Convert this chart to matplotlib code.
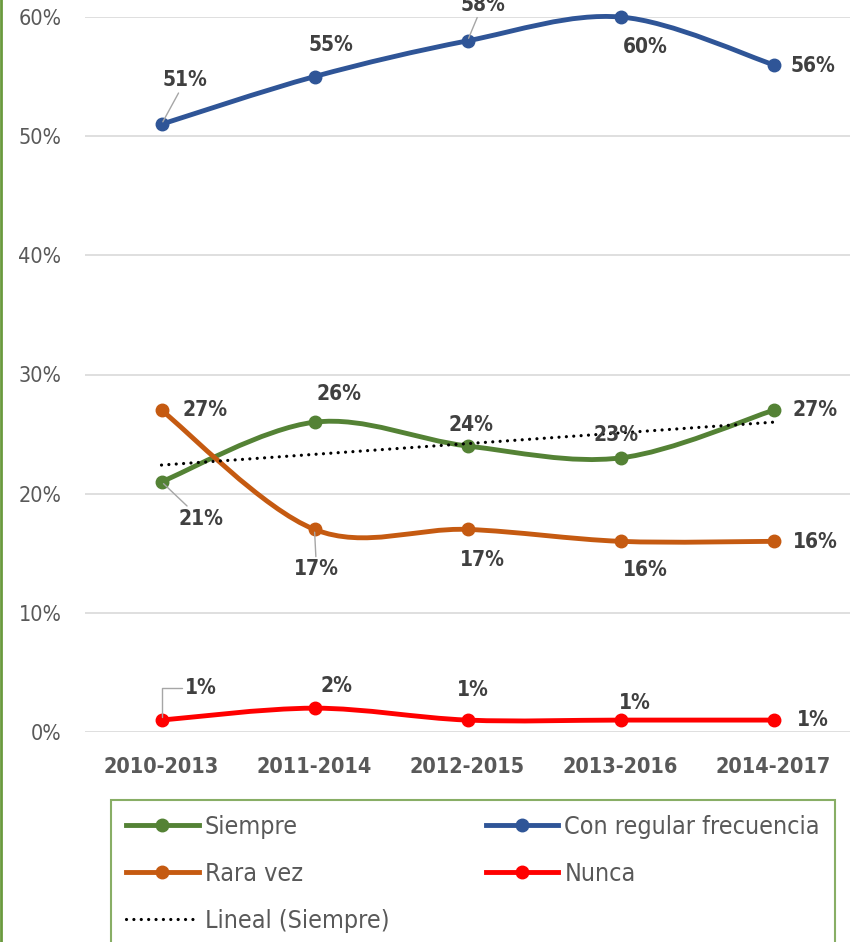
import matplotlib
matplotlib.use("Agg")
import matplotlib.pyplot as plt
import numpy as np
from matplotlib.path import Path
from matplotlib.patches import PathPatch
from matplotlib.lines import Line2D

# no Arial Narrow here, condensed DejaVu is the closest
plt.rcParams['font.family'] = ['DejaVu Sans']
plt.rcParams['font.stretch'] = 'condensed'

periodos = ["2010-2013", "2011-2014", "2012-2015", "2013-2016", "2014-2017"]
siempre = [21, 26, 24, 23, 27]
regular = [51, 55, 58, 60, 56]
rara_vez = [27, 17, 17, 16, 16]
nunca = [1, 2, 1, 1, 1]
y_ticks = [0, 10, 20, 30, 40, 50, 60]

C_SIEMPRE = '#548235'
C_REGULAR = '#2F5597'
C_RARA = '#C55A11'
C_NUNCA = '#FF0000'
C_BORDER = '#6A9A3E'
LBL = '#404040'
LW = 3.5
MS = 9


def smooth_path(xs, ys):
    # excel-like smoothed line: cubic bezier, control points from neighbours
    pts = np.column_stack([xs, ys]).astype(float)
    n = len(pts)
    verts = [pts[0]]
    codes = [Path.MOVETO]
    for i in range(n - 1):
        p_prev = pts[i - 1] if i > 0 else pts[i]
        p_next2 = pts[i + 2] if i + 2 < n else pts[i + 1]
        c1 = pts[i] + (pts[i + 1] - p_prev) / 6.0
        c2 = pts[i + 1] - (p_next2 - pts[i]) / 6.0
        verts += [c1, c2, pts[i + 1]]
        codes += [Path.CURVE4] * 3
    return Path(verts, codes)


fig = plt.figure(figsize=(8.51, 9.42), dpi=100)
ax = fig.add_axes([85 / 851, 1 - 732 / 942, 765 / 851, 715 / 942])

x = np.arange(len(periodos))
series = [(siempre, C_SIEMPRE), (regular, C_REGULAR), (rara_vez, C_RARA), (nunca, C_NUNCA)]
for vals, col in series:
    ax.add_patch(PathPatch(smooth_path(x, vals), facecolor='none', edgecolor=col,
                           lw=LW, capstyle='round', joinstyle='round', zorder=3, clip_on=False))
    ax.plot(x, vals, 'o', color=col, ms=MS, zorder=4, clip_on=False)

# linear trend of Siempre
DOTS = (0, (0.01, 2.3))
k, b = np.polyfit(x, siempre, 1)
ax.plot(x, k * x + b, color='black', ls=DOTS, lw=2.3, zorder=5,
        dash_capstyle='round')

ax.set_xlim(-0.5, 4.5)
ax.set_ylim(0, 60)
ax.set_yticks(y_ticks)
ax.set_yticklabels([f"{v}%" for v in y_ticks])
ax.set_xticks(x)
ax.set_xticklabels(periodos)
ax.grid(axis='y', color='#D9D9D9', lw=1.2)
ax.set_axisbelow(True)
for s in ax.spines.values():
    s.set_visible(False)
ax.tick_params(axis='y', length=0, pad=17, labelsize=15.5, labelcolor='#595959')
ax.tick_params(axis='x', length=0, pad=18, labelsize=15.5, labelcolor='#595959')
for t in ax.get_xticklabels():
    t.set_fontweight('bold')

leader = dict(arrowstyle='-', color='#A6A6A6', lw=1.0, shrinkA=0, shrinkB=2)

# label offsets in pixels from the point
label_offsets = {
    'regular': [(24, 44), (16, 32), (15, 36), (25, -30), (39, -1)],
    'siempre': [(39, -37), (24, 28), (3, 21), (-4, 23), (42, 0)],
    'rara': [(44, 0), (2, -40), (15, -31), (25, -29), (42, -1)],
    'nunca': [(39, 32), (22, 22), (5, 30), (14, 17), (39, 0)],
}
leaders = {('regular', 0), ('regular', 2), ('siempre', 0), ('rara', 1), ('nunca', 0)}
data_by_name = {'regular': regular, 'siempre': siempre, 'rara': rara_vez, 'nunca': nunca}

for name, offs in label_offsets.items():
    vals = data_by_name[name]
    for i, (v, off) in enumerate(zip(vals, offs)):
        kw = {}
        if (name, i) in leaders:
            ap = dict(leader)
            if name == 'nunca':
                ap['connectionstyle'] = 'angle,angleA=0,angleB=90,rad=0'
            kw['arrowprops'] = ap
        ax.annotate(f"{v}%", (i, v), xytext=off, textcoords='offset pixels',
                    ha='center', va='center', fontsize=15, fontweight='bold',
                    color=LBL, zorder=6, annotation_clip=False, **kw)

# legend
h_siempre = Line2D([], [], color=C_SIEMPRE, lw=LW, marker='o', ms=MS)
h_regular = Line2D([], [], color=C_REGULAR, lw=LW, marker='o', ms=MS)
h_rara = Line2D([], [], color=C_RARA, lw=LW, marker='o', ms=MS)
h_nunca = Line2D([], [], color=C_NUNCA, lw=LW, marker='o', ms=MS)
h_lineal = Line2D([], [], color='black', ls=DOTS, lw=2.3, dash_capstyle='round')
handles = [h_siempre, h_rara, h_lineal, h_regular, h_nunca]
labels = ["Siempre", "Rara vez", "Lineal (Siempre)", "Con regular frecuencia", "Nunca"]
leg = fig.legend(handles, labels, ncol=2, loc='upper left',
                 bbox_to_anchor=(111 / 851, 1 - 800 / 942), frameon=True,
                 fancybox=False, edgecolor=C_BORDER, fontsize=18,
                 handlelength=2.9, handletextpad=0.25, columnspacing=3.85,
                 labelspacing=0.92, borderpad=0.6, borderaxespad=0)
leg.get_frame().set_linewidth(1.5)
for t in leg.get_texts():
    t.set_color('#595959')

fig.add_artist(Line2D([0.0015, 0.0015], [0, 1], transform=fig.transFigure,
                      color=C_BORDER, lw=2))

fig.savefig("out.png", dpi=100)
